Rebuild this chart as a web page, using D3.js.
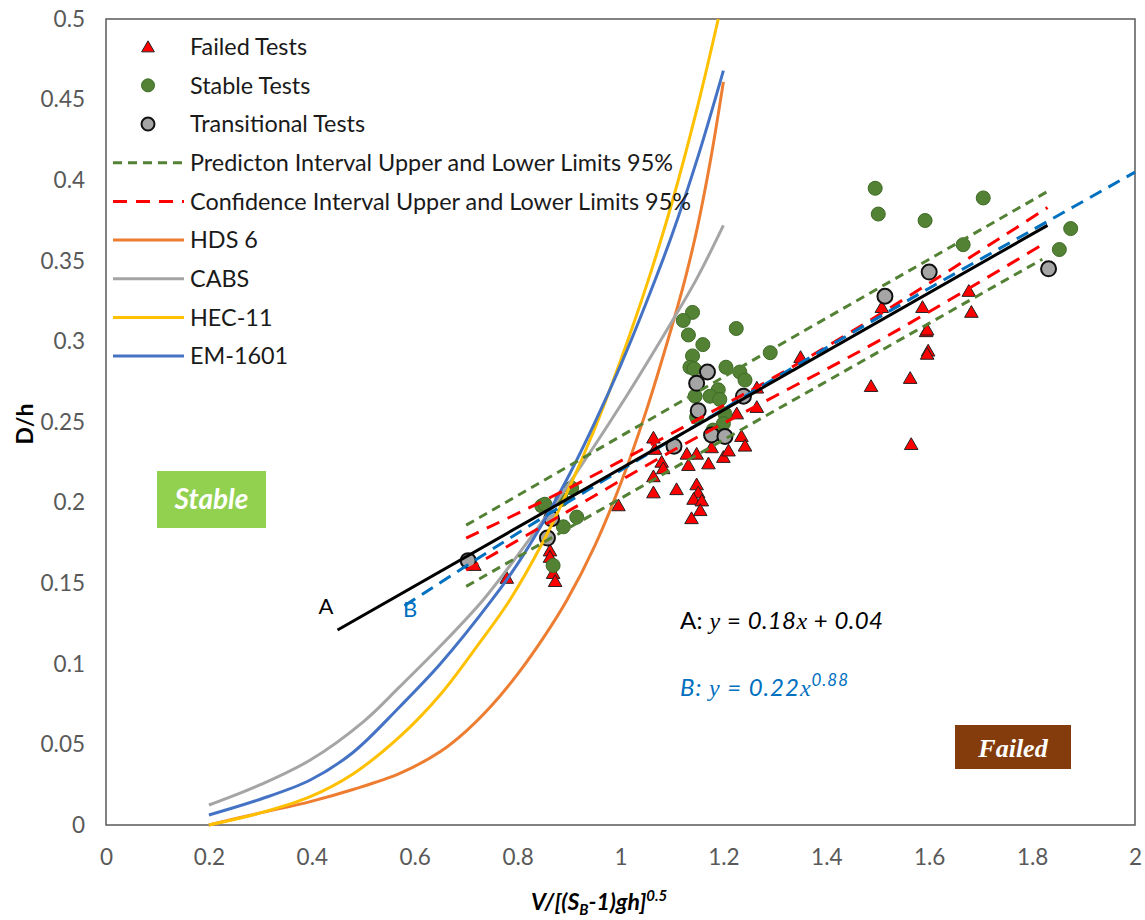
<!DOCTYPE html>
<html><head><meta charset="utf-8">
<script src="https://cdn.jsdelivr.net/npm/d3@7"></script>
<style>
html,body{margin:0;padding:0;background:#fff;}
svg{display:block;}
</style></head>
<body>
<svg id="chart" width="1145" height="920" font-family="Lato, 'Open Sans', sans-serif"></svg>
<script>
// ---------------- DATA ----------------
const xTickValues = [0,0.2,0.4,0.6,0.8,1,1.2,1.4,1.6,1.8,2];
const xTickLabels = ["0","0.2","0.4","0.6","0.8","1","1.2","1.4","1.6","1.8","2"];
const yTickValues = [0,0.05,0.1,0.15,0.2,0.25,0.3,0.35,0.4,0.45,0.5];
const yTickLabels = ["0","0.05","0.1","0.15","0.2","0.25","0.3","0.35","0.4","0.45","0.5"];

const failedX = [0.716,0.779,0.850,0.863,0.863,0.869,0.873,0.996,1.064,1.067,1.080,1.083,1.064,1.064,1.109,1.129,1.132,1.148,1.171,1.177,1.200,1.210,1.235,1.242,1.226,1.265,1.265,1.148,1.151,1.142,1.158,1.155,1.138,1.350,1.508,1.587,1.677,1.682,1.594,1.596,1.598,1.596,1.563,1.487,1.565];
const failedY = [0.161,0.153,0.198,0.170,0.166,0.156,0.151,0.198,0.240,0.233,0.225,0.221,0.216,0.206,0.208,0.230,0.223,0.230,0.224,0.234,0.228,0.232,0.241,0.235,0.255,0.259,0.271,0.211,0.206,0.202,0.201,0.195,0.190,0.290,0.321,0.321,0.331,0.318,0.306,0.307,0.294,0.292,0.277,0.272,0.236];

const stableX = [0.847,0.853,0.886,0.905,0.915,0.889,0.869,1.140,1.122,1.132,1.225,1.160,1.291,1.140,1.135,1.143,1.205,1.232,1.242,1.190,1.174,1.145,1.193,1.203,1.148,1.200,1.180,1.495,1.501,1.592,1.705,1.666,1.875,1.853];
const stableY = [0.198,0.199,0.202,0.209,0.191,0.185,0.161,0.318,0.313,0.304,0.308,0.298,0.293,0.291,0.284,0.283,0.284,0.281,0.276,0.270,0.266,0.266,0.264,0.255,0.253,0.249,0.245,0.395,0.379,0.375,0.389,0.360,0.370,0.357];

const transX = [0.704,0.866,0.858,1.104,1.148,1.169,1.151,1.239,1.177,1.203,1.514,1.600,1.832];
const transY = [0.164,0.190,0.178,0.235,0.274,0.281,0.257,0.266,0.242,0.241,0.328,0.343,0.345];

const hdsX  = [0.2,0.3,0.397,0.48,0.571,0.65,0.7,0.75,0.8,0.85,0.896,0.95,1.0,1.05,1.1,1.125,1.15,1.175,1.2];
const hdsY  = [0,0.0075,0.0145,0.022,0.032,0.0456,0.0583,0.0743,0.0936,0.1161,0.1396,0.1732,0.2115,0.2569,0.3094,0.338,0.3716,0.4125,0.461];
const cabsX = [0.2,0.3,0.397,0.5,0.571,0.65,0.733,0.8,0.9,1.0,1.1,1.148,1.2];
const cabsY = [0.0124,0.025,0.0403,0.064,0.0858,0.111,0.1396,0.1673,0.2118,0.2602,0.3124,0.3388,0.372];
const hecX  = [0.2,0.3,0.397,0.48,0.571,0.65,0.72,0.785,0.85,0.9,0.95,1.0,1.054,1.1,1.15,1.19];
const hecY  = [0,0.0075,0.0176,0.0317,0.0548,0.081,0.1104,0.1396,0.176,0.209,0.246,0.288,0.338,0.386,0.446,0.5];
const emX   = [0.2,0.3,0.397,0.48,0.571,0.65,0.75,0.8,0.85,0.9,0.95,1.0,1.05,1.1,1.15,1.2];
const emY   = [0.0062,0.016,0.0279,0.045,0.0734,0.100,0.1396,0.162,0.188,0.217,0.2496,0.285,0.324,0.366,0.414,0.468];

const predUpX = [0.70,1.25,1.83];
const predUpY = [0.186,0.287,0.393];
const predLoX = [0.70,1.25,1.82];
const predLoY = [0.148,0.248,0.351];
const confUpX = [0.70,0.90,1.10,1.30,1.50,1.83];
const confUpY = [0.178,0.209,0.243,0.278,0.316,0.383];
const confLoX = [0.70,0.90,1.10,1.30,1.50,1.82];
const confLoY = [0.158,0.195,0.232,0.266,0.300,0.360];

const lineAX = [0.45,1.83];
const lineAY = [0.121,0.372];
const lineBX = [0.58,0.8,1.0,1.2,1.4,1.6,1.8,2.0];
const lineBY = [0.136,0.181,0.220,0.258,0.296,0.333,0.369,0.405];

const legendLabels = ["Failed Tests","Stable Tests","Transitional Tests","Predicton Interval Upper and Lower Limits 95%","Confidence Interval Upper and Lower Limits 95%","HDS 6","CABS","HEC-11","EM-1601"];

// ---------------- CHART ----------------
const svg = d3.select("#chart");
const x = d3.scaleLinear().domain([0,2]).range([106,1135]);
const y = d3.scaleLinear().domain([0,0.5]).range([825,19]);
const zip = (a,b) => a.map((v,i)=>[v,b[i]]);
const SERIF = "'Liberation Serif','DejaVu Serif',serif";

const C = {
  red:"#FF0000", green:"#548235", greenStroke:"#3E6B25", gray:"#A5A5A5",
  orange:"#ED7D31", cabs:"#A5A5A5", hec:"#FFC000", em:"#4472C4", bBlue:"#0070C0"
};

// axes
const yAxis = d3.axisLeft(y).tickValues(yTickValues).tickSize(0).tickPadding(21)
  .tickFormat((d,i)=>yTickLabels[i]);
const xAxis = d3.axisBottom(x).tickValues(xTickValues).tickSize(0).tickPadding(24)
  .tickFormat((d,i)=>xTickLabels[i]);
const gy = svg.append("g").attr("transform","translate(106,0)").call(yAxis);
const gx = svg.append("g").attr("transform","translate(0,825)").call(xAxis);
[gx,gy].forEach(g=>{
  g.select(".domain").remove();
  g.attr("font-family","Lato, sans-serif").attr("font-size",22.5);
  g.selectAll("text").attr("fill","#595959");
});

// plot border
svg.append("rect").attr("x",106).attr("y",19).attr("width",1135-106).attr("height",825-19)
  .attr("fill","none").attr("stroke","#595959").attr("stroke-width",1.5);

// region boxes
svg.append("rect").attr("x",157).attr("y",471).attr("width",109).attr("height",57).attr("fill","#92D050");
svg.append("text").attr("x",211.5).attr("y",509).attr("text-anchor","middle")
  .attr("fill","#fff").attr("font-size",28).attr("font-weight","bold").attr("font-style","italic")
  .text("Stable");
svg.append("rect").attr("x",955).attr("y",725).attr("width",116).attr("height",44).attr("fill","#843C0C");
svg.append("text").attr("x",1013).attr("y",757).attr("text-anchor","middle")
  .attr("fill","#fff").attr("font-size",26).attr("font-weight","bold").attr("font-style","italic")
  .style("font-family",SERIF)
  .text("Failed");

// scatter
const tri = d3.symbol().type(d3.symbolTriangle).size(80);
svg.append("g").selectAll("path").data(zip(failedX,failedY)).join("path")
  .attr("d",tri).attr("transform",d=>`translate(${x(d[0])},${y(d[1])+1})`)
  .attr("fill",C.red).attr("stroke","#222").attr("stroke-width",1);
svg.append("g").selectAll("circle").data(zip(stableX,stableY)).join("circle")
  .attr("cx",d=>x(d[0])).attr("cy",d=>y(d[1])).attr("r",7)
  .attr("fill",C.green).attr("stroke",C.greenStroke).attr("stroke-width",1);
svg.append("g").selectAll("circle").data(zip(transX,transY)).join("circle")
  .attr("cx",d=>x(d[0])).attr("cy",d=>y(d[1])).attr("r",7.5)
  .attr("fill",C.gray).attr("stroke","#111").attr("stroke-width",2);

// lines
const smooth = d3.line().x(d=>x(d[0])).y(d=>y(d[1])).curve(d3.curveCatmullRom.alpha(0.5));
const straight = d3.line().x(d=>x(d[0])).y(d=>y(d[1]));
function drawLine(xs,ys,color,dash,gen){
  svg.append("path").attr("d",(gen||smooth)(zip(xs,ys))).attr("fill","none")
    .attr("stroke",color).attr("stroke-width",3).attr("stroke-dasharray",dash||null)
    .attr("stroke-linecap","butt").attr("stroke-linejoin","round");
}
drawLine(hdsX,hdsY,C.orange);
drawLine(cabsX,cabsY,C.cabs);
drawLine(hecX,hecY,C.hec);
drawLine(emX,emY,C.em);
drawLine(predUpX,predUpY,C.green,"9,6",straight);
drawLine(predLoX,predLoY,C.green,"9,6",straight);
drawLine(confUpX,confUpY,C.red,"14,9",smooth);
drawLine(confLoX,confLoY,C.red,"14,9",smooth);
drawLine(lineBX,lineBY,C.bBlue,"13,8",smooth);
drawLine(lineAX,lineAY,"#000",null,straight);

// A / B labels
svg.append("text").attr("x",326).attr("y",614).attr("text-anchor","middle").attr("fill","#000")
  .attr("font-size",22).text("A");
svg.append("text").attr("x",410).attr("y",617).attr("text-anchor","middle").attr("fill",C.bBlue)
  .attr("font-size",22).text("B");

// equations
const eqA = svg.append("text").attr("x",680).attr("y",629).attr("fill","#000").attr("font-size",24)
  .attr("textLength",203).attr("lengthAdjust","spacing");
eqA.append("tspan").text("A: ");
eqA.append("tspan").attr("font-family",SERIF).attr("font-style","italic").text("y");
eqA.append("tspan").text(" = ");
eqA.append("tspan").attr("font-style","italic").text("0.18");
eqA.append("tspan").attr("font-family",SERIF).attr("font-style","italic").text("x");
eqA.append("tspan").text(" + ");
eqA.append("tspan").attr("font-style","italic").text("0.04");

const eqB = svg.append("text").attr("x",680).attr("y",696).attr("fill",C.bBlue).attr("font-size",24).attr("font-style","italic")
  .attr("textLength",168).attr("lengthAdjust","spacing");
eqB.append("tspan").text("B: ");
eqB.append("tspan").attr("font-family",SERIF).text("y");
eqB.append("tspan").text(" = 0.22");
eqB.append("tspan").attr("font-family",SERIF).text("x");
eqB.append("tspan").attr("dy",-10).attr("font-size",17).text("0.88");

// axis titles
const xt = svg.append("text").attr("x",531).attr("y",910).attr("fill","#000")
  .attr("font-size",23).attr("font-weight","bold").attr("font-style","italic");
xt.append("tspan").text("V/[(S");
xt.append("tspan").attr("dy",5).attr("font-size",15).text("B");
xt.append("tspan").attr("dy",-5).text("-1)gh]");
xt.append("tspan").attr("dy",-9).attr("font-size",15).text("0.5");
svg.append("text").attr("transform","translate(33,424) rotate(-90)").attr("text-anchor","middle")
  .attr("fill","#000").attr("font-size",23).attr("font-weight","bold").text("D/h");

// legend
const legY0 = 46.7, legStep = 38.67;
const lg = svg.append("g");
legendLabels.forEach((lab,i)=>{
  const cy = legY0 + i*legStep;
  lg.append("text").attr("x",190).attr("y",cy).attr("dy","0.36em").attr("fill","#1a1a1a")
    .attr("font-size",23.4).text(lab);
});
lg.append("path").attr("d",d3.symbol().type(d3.symbolTriangle).size(70)())
  .attr("transform",`translate(148,${legY0+1.5})`).attr("fill",C.red).attr("stroke","#222").attr("stroke-width",1);
lg.append("circle").attr("cx",148).attr("cy",legY0+legStep).attr("r",6.5).attr("fill",C.green).attr("stroke",C.greenStroke);
lg.append("circle").attr("cx",148).attr("cy",legY0+2*legStep).attr("r",6.5).attr("fill",C.gray).attr("stroke","#111").attr("stroke-width",2);
const legLines = [[C.green,"9,6"],[C.red,"14,9"],[C.orange,null],[C.cabs,null],[C.hec,null],[C.em,null]];
legLines.forEach((l,j)=>{
  const cy = legY0 + (j+3)*legStep;
  lg.append("line").attr("x1",113).attr("x2",184).attr("y1",cy).attr("y2",cy)
    .attr("stroke",l[0]).attr("stroke-width",3).attr("stroke-dasharray",l[1]);
});
</script>
</body></html>
